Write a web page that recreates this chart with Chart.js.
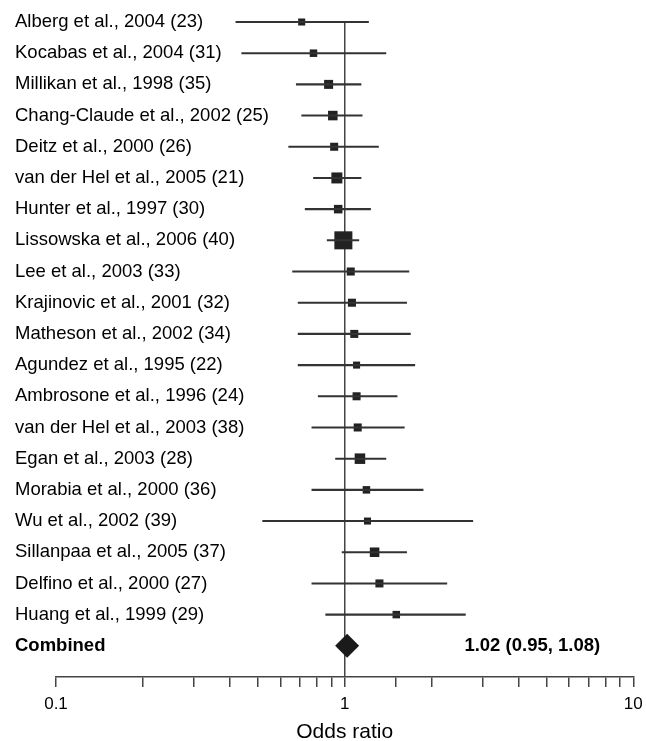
<!DOCTYPE html>
<html>
<head>
<meta charset="utf-8">
<script src="https://cdn.jsdelivr.net/npm/chart.js@4/dist/chart.umd.min.js"></script>
<style>
  body { margin: 0; background: #fff; }
  #wrap { width: 646px; height: 741px; position: relative; }
</style>
</head>
<body>
<div id="wrap"><canvas id="forest"></canvas></div>
<script>
// Studies, top to bottom
const studies = [
    'Alberg et al., 2004 (23)',
    'Kocabas et al., 2004 (31)',
    'Millikan et al., 1998 (35)',
    'Chang-Claude et al., 2002 (25)',
    'Deitz et al., 2000 (26)',
    'van der Hel et al., 2005 (21)',
    'Hunter et al., 1997 (30)',
    'Lissowska et al., 2006 (40)',
    'Lee et al., 2003 (33)',
    'Krajinovic et al., 2001 (32)',
    'Matheson et al., 2002 (34)',
    'Agundez et al., 1995 (22)',
    'Ambrosone et al., 1996 (24)',
    'van der Hel et al., 2003 (38)',
    'Egan et al., 2003 (28)',
    'Morabia et al., 2000 (36)',
    'Wu et al., 2002 (39)',
    'Sillanpaa et al., 2005 (37)',
    'Delfino et al., 2000 (27)',
    'Huang et al., 1999 (29)'
];

// odds ratios and 95% CI
const oddsRatio = [0.71, 0.78, 0.88, 0.91, 0.92, 0.94, 0.95, 0.99, 1.05, 1.06,
                   1.08, 1.10, 1.10, 1.11, 1.13, 1.19, 1.20, 1.27, 1.32, 1.51];
const ciLower   = [0.42, 0.44, 0.68, 0.71, 0.64, 0.78, 0.73, 0.87, 0.66, 0.69,
                   0.69, 0.69, 0.81, 0.77, 0.93, 0.77, 0.52, 0.98, 0.77, 0.86];
const ciUpper   = [1.21, 1.39, 1.14, 1.15, 1.31, 1.14, 1.23, 1.12, 1.67, 1.64,
                   1.69, 1.75, 1.52, 1.61, 1.39, 1.87, 2.78, 1.64, 2.26, 2.62];
// study weights (%) - box area is proportional to weight
const weights   = [3.0, 3.4, 4.9, 5.5, 3.9, 7.3, 4.4, 19.6, 3.9, 3.9,
                   3.9, 3.0, 3.9, 3.9, 6.7, 3.4, 3.0, 5.5, 3.9, 3.4];

const combinedLabel = 'Combined';
const combinedOR = 1.02;
const combinedLower = 0.95;
const combinedUpper = 1.08;

const xTicksShown = [0.1, 1, 10];
const xTitle = 'Odds ratio';

const rowLabels = [...studies, combinedLabel, ''];
const FONT = "'Liberation Sans', Arial, Helvetica, sans-serif";

Chart.defaults.font.family = FONT;
Chart.defaults.color = '#000';

// summary text next to the combined estimate
const summaryText = {
    id: 'summaryText',
    afterDatasetsDraw(chart) {
        const { ctx, scales: { x, y } } = chart;
        const txt = `${combinedOR.toFixed(2)} (${combinedLower.toFixed(2)}, ${combinedUpper.toFixed(2)})`;
        ctx.save();
        ctx.font = `bold 18.5px ${FONT}`;
        ctx.fillStyle = '#000';
        ctx.textAlign = 'left';
        ctx.textBaseline = 'middle';
        ctx.fillText(txt, x.getPixelForValue(2.6), y.getPixelForValue(studies.length));
        ctx.restore();
    }
};

new Chart(document.getElementById('forest'), {
    type: 'bar',
    data: {
        labels: rowLabels,
        datasets: [
            {
                // confidence intervals as thin floating bars
                type: 'bar',
                indexAxis: 'y',
                data: studies.map((s, i) => [ciLower[i], ciUpper[i]]),
                backgroundColor: '#333',
                barThickness: 1.4,
                grouped: false,
                clip: false
            },
            {
                type: 'scatter',
                data: studies.map((s, i) => ({ x: oddsRatio[i], y: s })),
                pointStyle: 'rect',
                pointRadius: ctx => 4.07 * Math.sqrt(weights[ctx.dataIndex]) / Math.SQRT2,
                backgroundColor: '#222',
                borderWidth: 0,
                clip: false
            },
            {
                type: 'scatter',
                data: [{ x: combinedOR, y: combinedLabel }],
                pointStyle: 'rectRot',
                pointRadius: 12,
                backgroundColor: '#1a1a1a',
                borderWidth: 0,
                clip: false
            }
        ]
    },
    options: {
        responsive: true,
        maintainAspectRatio: false,
        animation: false,
        layout: { padding: { top: 22, left: 15, right: 12, bottom: 0 } },
        plugins: {
            legend: { display: false },
            tooltip: { enabled: false }
        },
        scales: {
            x: {
                type: 'logarithmic',
                position: 'bottom',
                min: 0.1,
                max: 10,
                offset: false,
                afterFit: scale => {
                    scale.height = 64;
                    scale.paddingLeft = 0;
                    scale.paddingRight = 0;
                },
                border: { display: true, color: '#444', width: 1.5 },
                grid: {
                    offset: false,
                    drawOnChartArea: true,
                    color: ctx => (ctx.tick && Math.abs(ctx.tick.value - 1) < 1e-9) ? '#444' : 'rgba(0,0,0,0)',
                    tickColor: '#444',
                    tickLength: 10,
                    lineWidth: 1.5
                },
                ticks: {
                    autoSkip: false,
                    maxRotation: 0,
                    padding: 7,
                    font: { size: 17 },
                    color: '#000',
                    callback: v => xTicksShown.some(t => Math.abs(t - v) < 1e-9) ? String(v) : ''
                },
                title: {
                    display: true,
                    text: xTitle,
                    font: { size: 21, lineHeight: 0.8 },
                    padding: { top: 0, bottom: 0 },
                    color: '#000'
                }
            },
            y: {
                type: 'category',
                labels: rowLabels,
                offset: false,
                afterFit: scale => { scale.width = 41; },
                border: { display: false },
                grid: { display: false, offset: false },
                ticks: {
                    autoSkip: false,
                    mirror: true,
                    crossAlign: 'near',
                    padding: -41,
                    color: '#000',
                    font: ctx => ctx.index === studies.length
                        ? { size: 18.5, weight: 'bold' }
                        : { size: 18.5 }
                }
            }
        }
    },
    plugins: [summaryText]
});
</script>
</body>
</html>
